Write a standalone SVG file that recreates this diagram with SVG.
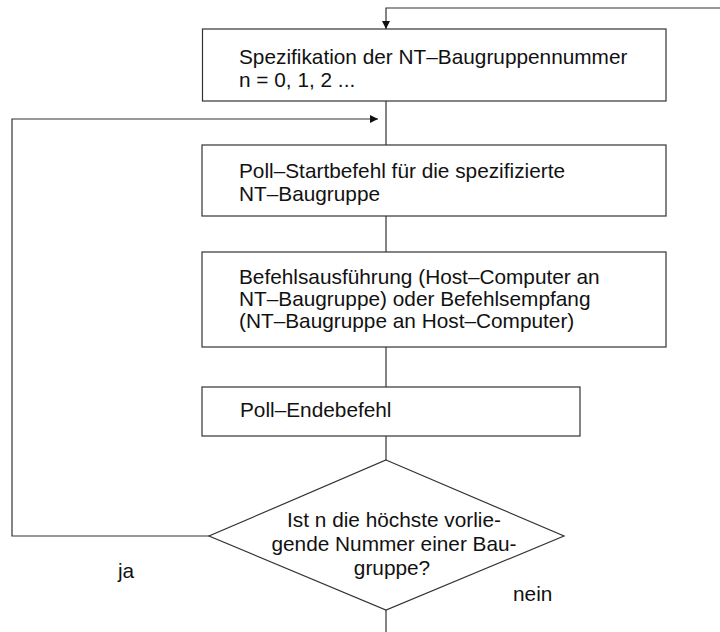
<svg xmlns="http://www.w3.org/2000/svg" width="720" height="632" viewBox="0 0 720 632">
<defs>
<style>
.box{fill:#fff;stroke:#333;stroke-width:1.2}
.ln{fill:none;stroke:#333;stroke-width:1.2}
.t{font-family:"Liberation Sans",Arial,sans-serif;font-size:20.8px;fill:#111}
.c{text-anchor:middle}
</style>
<marker id="ah" viewBox="0 0 10 10" refX="10" refY="5" markerWidth="8" markerHeight="8" markerUnits="userSpaceOnUse" orient="auto">
<path d="M0,0 L10,5 L0,10 z" fill="#111"/>
</marker>
</defs>
<rect width="720" height="632" fill="#fff"/>
<g id="connectors">
<polyline class="ln" points="720,8 386,8 386,29" marker-end="url(#ah)"/>
<line class="ln" x1="386" y1="101" x2="386" y2="145"/>
<polyline class="ln" points="209,536 12,536 12,119 378,119" marker-end="url(#ah)"/>
<line class="ln" x1="386" y1="216" x2="386" y2="252"/>
<line class="ln" x1="386" y1="347" x2="386" y2="387"/>
<line class="ln" x1="386" y1="436" x2="386" y2="460"/>
<line class="ln" x1="386" y1="610" x2="386" y2="632"/>
</g>
<g id="n1">
<rect class="box" x="202.5" y="29" width="463.5" height="72"/>
<text class="t" x="239" y="64">Spezifikation der NT–Baugruppennummer</text>
<text class="t" x="239" y="87">n = 0, 1, 2 ...</text>
</g>
<g id="n2">
<rect class="box" x="202" y="145" width="464" height="71"/>
<text class="t" x="239" y="178">Poll–Startbefehl für die spezifizierte</text>
<text class="t" x="239" y="201">NT–Baugruppe</text>
</g>
<g id="n3">
<rect class="box" x="202" y="252" width="464" height="95"/>
<text class="t" x="239" y="284">Befehlsausführung (Host–Computer an</text>
<text class="t" x="239" y="306">NT–Baugruppe) oder Befehlsempfang</text>
<text class="t" x="239" y="328">(NT–Baugruppe an Host–Computer)</text>
</g>
<g id="n4">
<rect class="box" x="202" y="387" width="378" height="49"/>
<text class="t" x="240" y="417">Poll–Endebefehl</text>
</g>
<g id="n5">
<polygon class="box" points="386,460 564,536 386,610 209,536"/>
<text class="t c" x="394" y="527">Ist n die höchste vorlie-</text>
<text class="t c" x="394" y="551">gende Nummer einer Bau-</text>
<text class="t c" x="392" y="575">gruppe?</text>
</g>
<text class="t" x="118" y="578">ja</text>
<text class="t" x="513" y="601">nein</text>
</svg>
